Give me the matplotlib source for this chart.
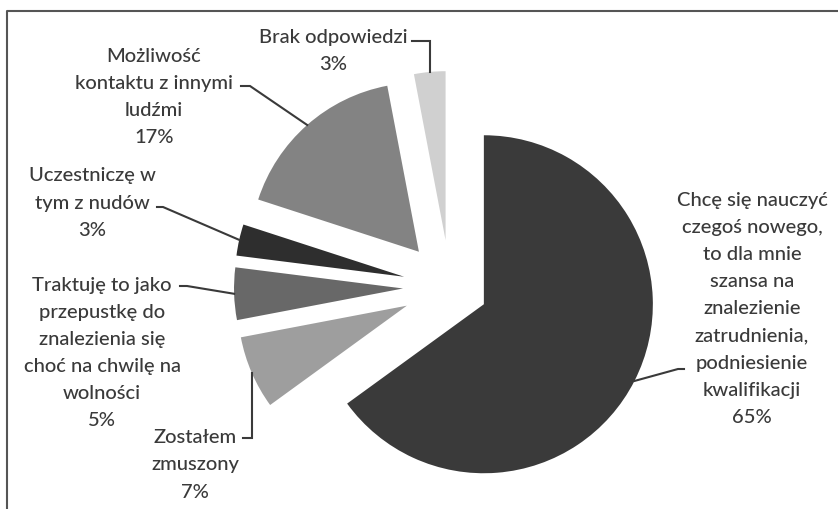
import numpy as np
import matplotlib.pyplot as plt

W, H = 838, 510

labels = [
    "Chcę się nauczyć\nczegoś nowego,\nto dla mnie\nszansa na\nznalezienie\nzatrudnienia,\npodniesienie\nkwalifikacji",
    "Zostałem\nzmuszony",
    "Traktuję to jako\nprzepustkę do\nznalezienia się\nchoć na chwilę na\nwolności",
    "Uczestniczę w\ntym z nudów",
    "Możliwość\nkontaktu z innymi\nludźmi",
    "Brak odpowiedzi",
]
shares = [65, 7, 5, 3, 17, 3]

colors = ["#3a3a3a", "#9e9e9e", "#686868", "#2e2e2e", "#838383", "#d0d0d0"]
explode = [38, 47, 47, 47, 47, 47]

# label block centres and leader anchors, in image pixels (y down)
label_pos = [(752, 309), (195, 465), (102, 353), (92, 203), (154, 97), (333, 51)]
leader_start = [(684, 370), (243, 439), (180, 287), (157, 208), (241, 87), (412, 42)]
leader_elbow = [(678, 370), (None, 439), (187, 287), (163, 208), (250, 87), (None, 42)]


def px(x, y):
    return x, H - y


plt.rcParams['font.family'] = ['Lato', 'DejaVu Sans']
fig = plt.figure(figsize=(W / 100, H / 100), dpi=100)
ax = fig.add_axes([0, 0, 1, 1])

wedges, _ = ax.pie(shares, colors=colors, explode=explode, startangle=90,
                   counterclock=False, radius=169, center=px(450, 288),
                   frame=True, wedgeprops=dict(linewidth=0))
ax.set_xlim(0, W)
ax.set_ylim(0, H)
ax.set_aspect('equal')
ax.axis('off')

txt_color = "#3a3a3a"
for w, lab, s, pos, st, el in zip(wedges, labels, shares, label_pos,
                                  leader_start, leader_elbow):
    ax.text(*px(*pos), f"{lab}\n{s}%", ha='center', va='center',
            multialignment='center', fontsize=14.5, fontweight='medium',
            color=txt_color, linespacing=1.72)
    mid = np.deg2rad((w.theta1 + w.theta2) / 2)
    tip = (w.center[0] + w.r * np.cos(mid), w.center[1] + w.r * np.sin(mid))
    ex = tip[0] if el[0] is None else el[0]
    sx, sy = px(*st)
    ey = H - el[1]
    ax.plot([sx, ex, tip[0]], [sy, ey, tip[1]], color=txt_color, lw=1.5,
            solid_joinstyle='miter')

# chart border (top and left edges visible)
ax.plot([7, 7, W], [0, H - 12, H - 12], color="#555555", lw=1.5)

plt.savefig('out.png', dpi=100)
